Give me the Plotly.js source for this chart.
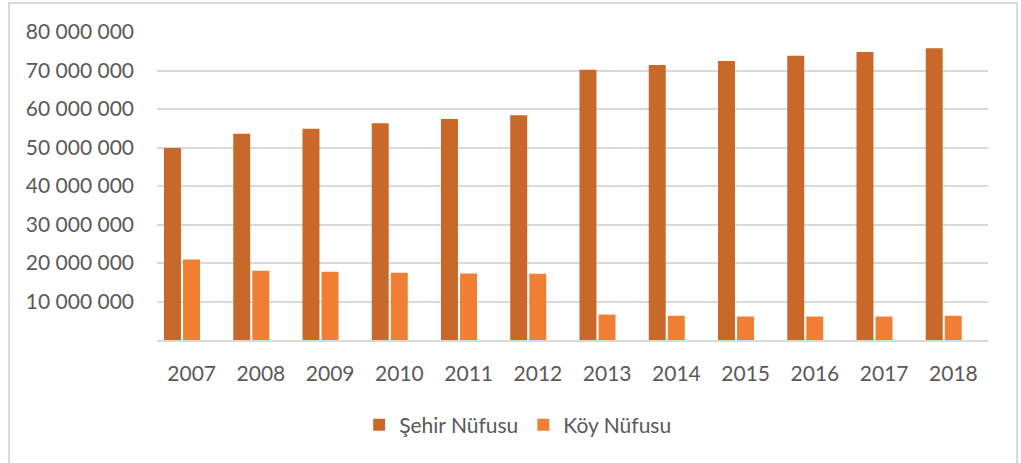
<!DOCTYPE html>
<html>
<head>
<meta charset="utf-8">
<script src="https://cdn.plot.ly/plotly-3.0.1.min.js"></script>
<style>
  html, body { margin: 0; padding: 0; background: #ffffff; }
  #chart { width: 1021px; height: 463px; }
</style>
</head>
<body>
<div id="chart"></div>
<script>
const years = ['2007','2008','2009','2010','2011','2012','2013','2014','2015','2016','2017','2018'];
const sehirNufusu = [49900000, 53600000, 54900000, 56300000, 57400000, 58400000, 70200000, 71400000, 72500000, 73800000, 74800000, 75800000];
const koyNufusu = [20900000, 18000000, 17700000, 17500000, 17300000, 17200000, 6600000, 6300000, 6100000, 6100000, 6100000, 6300000];
const seriesNames = ['Şehir Nüfusu', 'Köy Nüfusu'];
const yTickVals = [10000000, 20000000, 30000000, 40000000, 50000000, 60000000, 70000000, 80000000];
const yTickText = ['10 000 000','20 000 000','30 000 000','40 000 000','50 000 000','60 000 000','70 000 000','80 000 000'];

const font = 'Lato, "Open Sans", "DejaVu Sans", sans-serif';
const textColor = '#595959';

const traces = [
  {
    type: 'bar', name: seriesNames[0], x: years, y: sehirNufusu,
    width: 0.245, offset: -0.399,
    marker: { color: '#C8692A', line: { width: 0 } },
    hoverinfo: 'x+y+name'
  },
  {
    type: 'bar', name: seriesNames[1], x: years, y: koyNufusu,
    width: 0.245, offset: -0.124,
    marker: { color: '#F07F35', line: { width: 0 } },
    hoverinfo: 'x+y+name'
  }
];

const layout = {
  width: 1021, height: 463,
  margin: { l: 157, r: 33, t: 32, b: 123, pad: 0 },
  paper_bgcolor: '#ffffff', plot_bgcolor: '#ffffff',
  barmode: 'overlay',
  showlegend: true,
  font: { family: font, size: 21, color: textColor },
  xaxis: {
    type: 'category',
    range: [-0.5, 11.5],
    showgrid: false,
    zeroline: false,
    showline: true, linecolor: '#D9D9D9', linewidth: 2,
    ticks: '',
    ticklabelstandoff: 14,
    tickfont: { family: font, size: 21, color: textColor },
    fixedrange: true
  },
  yaxis: {
    range: [0, 80000000],
    tickmode: 'array', tickvals: yTickVals, ticktext: yTickText,
    showgrid: true, gridcolor: '#D9D9D9', gridwidth: 2,
    zeroline: false, showline: false,
    ticks: '',
    ticklabelstandoff: 22,
    tickfont: { family: font, size: 21, color: textColor },
    fixedrange: true
  },
  legend: {
    orientation: 'h',
    x: 0.434, xanchor: 'center',
    y: -0.276, yanchor: 'middle',
    font: { family: font, size: 21, color: textColor },
    itemwidth: 30,
    traceorder: 'normal',
    bgcolor: 'rgba(0,0,0,0)'
  },
  shapes: [
    {
      type: 'rect', xref: 'paper', yref: 'paper',
      x0: -0.178, x1: 1.035, y0: -0.45, y1: 1.094,
      line: { color: '#D9D9D9', width: 2 },
      fillcolor: 'rgba(0,0,0,0)', layer: 'below'
    }
  ]
};

Plotly.newPlot('chart', traces, layout, { displayModeBar: false, staticPlot: true });
</script>
</body>
</html>
